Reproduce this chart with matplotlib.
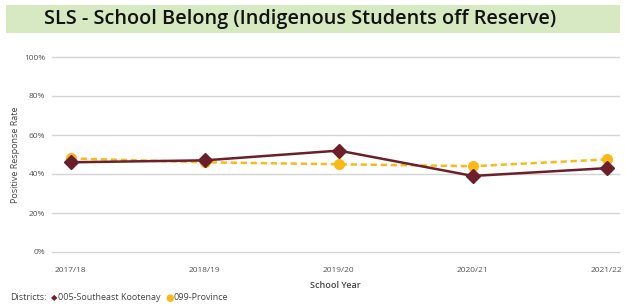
import matplotlib.pyplot as plt
from matplotlib.patches import Rectangle

plt.rcParams['font.family'] = ['Open Sans', 'DejaVu Sans']

years = ['2017/18', '2018/19', '2019/20', '2020/21', '2021/22']
kootenay = [46, 47, 52, 39, 43]
province = [48, 46, 45, 44, 47.5]
yticks = [0, 20, 40, 60, 80, 100]

maroon = '#6b1f2b'
gold = '#fbb917'

fig = plt.figure(figsize=(6.26, 3.06), dpi=100)

# title banner
fig.patches.append(Rectangle((6 / 626, 1 - 33 / 306), 614 / 626, 28 / 306,
                             transform=fig.transFigure, facecolor='#d6e9c0',
                             edgecolor='none', zorder=0))
fig.text(0.48, 1 - 19 / 306, 'SLS - School Belong (Indigenous Students off Reserve)',
         ha='center', va='center', fontsize=14.3, fontweight='semibold', color='#111111')

ax = fig.add_axes([52 / 626, 1 - 252 / 306, 567 / 626, 195 / 306])
x = list(range(len(years)))
ax.plot(x, province, color=gold, lw=1.8, ls=(0, (2.5, 1.5)), marker='o', ms=7, zorder=3)
ax.plot(x, kootenay, color=maroon, lw=1.8, marker='D', ms=7, zorder=4)

ax.set_ylim(0, 100)
ax.set_xlim(-0.14, 4.09)
ax.set_yticks(yticks)
ax.set_yticklabels([f'{v}%' for v in yticks])
ax.set_xticks(x)
ax.set_xticklabels(years)
ax.tick_params(length=0, labelsize=6, colors='#555555')
ax.tick_params(axis='x', pad=11)
ax.tick_params(axis='y', pad=5)
ax.grid(axis='y', color='#d4d4d4', lw=1, clip_on=False)
ax.set_axisbelow(True)
for s in ax.spines.values():
    s.set_visible(False)

ax.set_xlabel('School Year', fontsize=6.5, color='#444444', fontweight='semibold', labelpad=5)
ax.set_ylabel('Positive Response Rate', fontsize=6.5, color='#444444')
ax.yaxis.set_label_coords(-32 / 567, 0.5)

# legend row
ly = 1 - 298 / 306
fig.text(10 / 626, ly, 'Districts:', fontsize=6.5, color='#444444', va='center')
fig.text(51 / 626, ly, '\u25c6', fontsize=6, color=maroon, va='center', family='DejaVu Sans')
fig.text(58 / 626, ly, '005-Southeast Kootenay', fontsize=6.5, color='#444444', va='center')
fig.text(165 / 626, ly, '\u25cf', fontsize=7, color=gold, va='center', family='DejaVu Sans')
fig.text(174 / 626, ly, '099-Province', fontsize=6.5, color='#444444', va='center')

fig.savefig('out.png', dpi=100)
